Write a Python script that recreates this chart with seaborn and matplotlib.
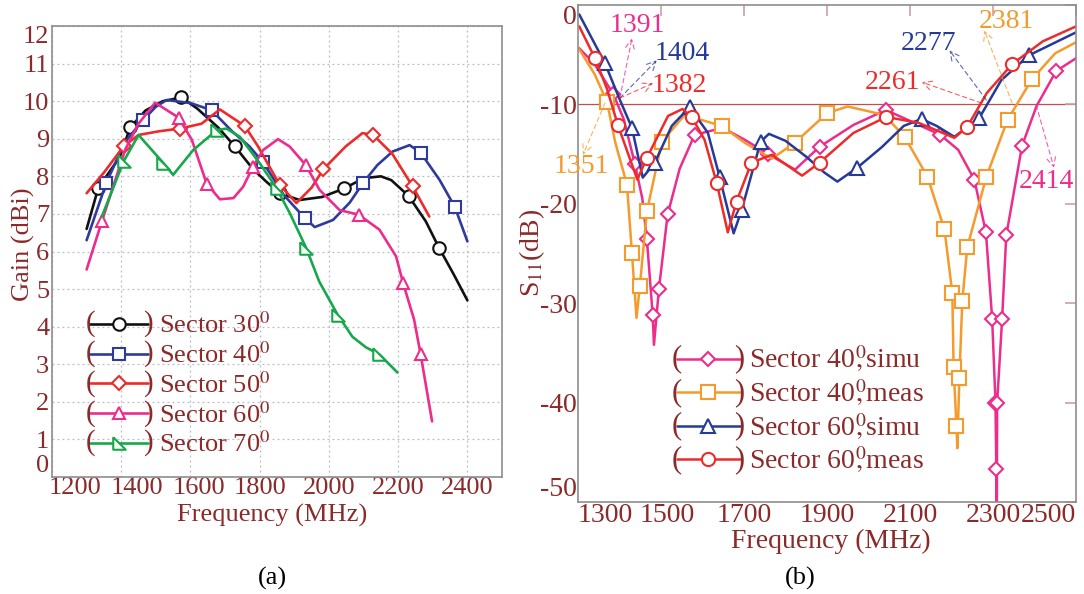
import matplotlib
matplotlib.use("Agg")
import matplotlib.pyplot as plt
import seaborn as sns
from matplotlib.legend_handler import HandlerLine2D
from matplotlib.text import Text
from matplotlib.transforms import ScaledTranslation

# ---------------- data: panel (a) gain ----------------
f30 = [1300, 1334, 1395, 1426, 1470, 1520, 1574, 1620, 1680, 1728, 1780, 1820, 1858, 1915, 1980, 2045, 2100, 2150, 2180, 2230, 2280, 2318, 2360, 2400]
g30 = [6.6, 7.7, 8.5, 9.3, 9.75, 10.0, 10.1, 9.8, 9.3, 8.8, 8.2, 7.85, 7.55, 7.37, 7.45, 7.68, 7.95, 8.0, 7.9, 7.48, 6.8, 6.1, 5.4, 4.7]
m30 = [1, 3, 6, 9, 12, 15, 19, 21]

f40 = [1300, 1357, 1410, 1463, 1500, 1531, 1600, 1661, 1720, 1770, 1810, 1870, 1930, 1959, 2012, 2060, 2099, 2140, 2184, 2233, 2265, 2320, 2364, 2400]
g40 = [6.3, 7.83, 8.9, 9.5, 9.85, 10.03, 9.95, 9.76, 9.2, 8.8, 8.37, 7.5, 6.89, 6.65, 6.84, 7.3, 7.83, 8.3, 8.66, 8.83, 8.63, 7.9, 7.18, 6.27]
m40 = [1, 3, 7, 10, 12, 16, 20, 22]

f50 = [1300, 1350, 1407, 1450, 1510, 1569, 1632, 1685, 1757, 1795, 1858, 1906, 1950, 1984, 2049, 2097, 2128, 2183, 2242, 2290]
g50 = [7.55, 8.1, 8.8, 9.1, 9.2, 9.27, 9.4, 9.78, 9.34, 8.8, 7.77, 7.29, 7.7, 8.19, 8.8, 9.15, 9.1, 8.6, 7.73, 6.93]
m50 = [2, 5, 8, 10, 13, 16, 18]

f60 = [1300, 1344, 1411, 1450, 1498, 1566, 1604, 1647, 1685, 1724, 1752, 1781, 1810, 1853, 1887, 1933, 1973, 2031, 2086, 2146, 2194, 2214, 2246, 2265, 2298]
g60 = [5.52, 6.8, 8.7, 9.4, 9.96, 9.56, 8.97, 7.8, 7.39, 7.42, 7.72, 8.26, 8.7, 8.99, 8.79, 8.3, 7.64, 7.1, 6.98, 6.58, 5.87, 5.17, 4.19, 3.26, 1.48]
m60 = [1, 5, 7, 11, 15, 18, 21, 23]

f70 = [1344, 1407, 1450, 1522, 1550, 1608, 1676, 1704, 1743, 1800, 1849, 1887, 1934, 1972, 2025, 2068, 2107, 2146, 2198]
g70 = [6.93, 8.4, 9.1, 8.35, 8.04, 8.7, 9.23, 9.27, 9.05, 8.35, 7.68, 7.02, 6.1, 5.2, 4.32, 3.73, 3.45, 3.26, 2.78]
m70 = [1, 3, 6, 10, 12, 14, 17]

gain_labels = ["Sector 30$^0$", "Sector 40$^0$", "Sector 50$^0$", "Sector 60$^0$", "Sector 70$^0$"]
gain_xticks = [1200, 1400, 1600, 1800, 2000, 2200, 2400]
gain_yticks = list(range(0, 13))

# ---------------- data: panel (b) S11 ----------------
fs40 = [1303, 1340, 1385, 1410, 1437, 1455, 1466, 1480, 1483, 1495, 1516, 1545, 1581, 1649, 1702, 1757, 1823, 1882, 1964, 2042, 2121, 2173, 2216, 2255, 2283, 2298, 2306, 2308, 2309, 2310, 2322, 2332, 2370, 2405, 2452, 2500]
ss40 = [-4.4, -6.0, -9.0, -11.5, -16.0, -19.5, -23.6, -31.2, -34.2, -28.6, -21.1, -16.5, -13.1, -12.4, -13.6, -15.0, -16.6, -14.3, -12.1, -10.6, -12.1, -13.1, -14.6, -17.6, -22.9, -31.6, -40.0, -46.7, -55.0, -40.0, -31.6, -23.2, -14.2, -10.2, -6.7, -5.4]
ms40 = [2, 4, 6, 7, 9, 10, 12, 15, 17, 19, 21, 23, 24, 25, 26, 27, 29, 30, 31, 32, 34]

fm40 = [1303, 1340, 1370, 1390, 1418, 1430, 1441, 1449, 1466, 1502, 1557, 1646, 1702, 1767, 1822, 1901, 1950, 2038, 2087, 2142, 2183, 2202, 2205, 2212, 2214, 2219, 2226, 2238, 2284, 2335, 2394, 2450, 2500]
sm40 = [-4.5, -7.0, -9.8, -13.9, -18.1, -25.0, -31.5, -28.3, -20.8, -13.8, -11.1, -12.2, -13.9, -15.5, -13.9, -10.9, -10.25, -11.1, -13.3, -17.3, -22.6, -29.0, -36.4, -42.4, -44.6, -37.5, -29.8, -24.4, -17.3, -11.6, -7.5, -4.9, -3.8]
mm40 = [2, 4, 5, 7, 8, 9, 11, 14, 15, 18, 19, 20, 21, 22, 23, 25, 26, 27, 28, 29, 30]

fs60 = [1303, 1365, 1400, 1430, 1456, 1485, 1526, 1569, 1613, 1641, 1675, 1694, 1740, 1760, 1800, 1850, 1894, 1925, 1973, 2033, 2085, 2128, 2164, 2207, 2267, 2320, 2387, 2500]
ss60 = [-1.0, -5.9, -9.5, -12.4, -17.4, -15.9, -12.2, -10.3, -12.9, -17.3, -23.0, -20.7, -13.8, -13.0, -13.7, -15.3, -16.9, -17.8, -16.4, -14.3, -12.2, -11.5, -12.2, -13.3, -11.4, -7.6, -5.1, -2.8]
ms60 = [1, 3, 5, 7, 9, 11, 12, 18, 21, 24, 26]

fm60 = [1303, 1341, 1370, 1396, 1425, 1443, 1466, 1517, 1552, 1574, 1605, 1634, 1661, 1682, 1718, 1767, 1840, 1882, 1964, 2043, 2121, 2207, 2238, 2285, 2346, 2420, 2500]
sm60 = [-2.2, -5.4, -8.5, -12.1, -15.5, -17.6, -15.4, -11.2, -10.5, -11.3, -13.6, -17.9, -22.9, -19.8, -15.9, -15.1, -17.2, -15.9, -12.9, -11.3, -11.9, -13.4, -12.3, -8.9, -6.0, -3.7, -2.2]
mm60 = [1, 3, 6, 9, 11, 13, 14, 17, 19, 22, 24]

s11_labels = [r"Sector 40$^{0}\hspace{-0.5},\hspace{-0.05}$simu", r"Sector 40$^{0}\hspace{-0.5},\hspace{-0.05}$meas",
              r"Sector 60$^{0}\hspace{-0.5},\hspace{-0.05}$simu", r"Sector 60$^{0}\hspace{-0.5},\hspace{-0.05}$meas"]
s11_xticks = [1300, 1500, 1700, 1900, 2100, 2300, 2500]
s11_yticks = [0, -10, -20, -30, -40, -50]
ref_level = -10

ann_texts = ["1391", "1404", "1382", "1351", "2277", "2261", "2381", "2414"]

# ---------------- style ----------------
sns.set_style("white")
plt.rcParams["font.family"] = ["Liberation Serif", "DejaVu Serif"]
plt.rcParams["mathtext.fontset"] = "stix"
plt.rcParams["axes.unicode_minus"] = False

TXT = "#8B2A2A"
SPINE = "#8E8E8E"
FA = 19   # panel (a) font size
FB = 20   # panel (b) font size

fig = plt.figure(figsize=(10.84, 5.94), dpi=100)
W, H = 1084, 594
axA = fig.add_axes([52 / W, (H - 477) / H, 450 / W, 451 / H])
axB = fig.add_axes([578 / W, (H - 502) / H, 498 / W, 497.5 / H])


def shift(label, dx_px):
    label.set_transform(label.get_transform() + ScaledTranslation(dx_px / 100, 0, fig.dpi_scale_trans))


class ParenHandler(HandlerLine2D):
    def create_artists(self, legend, orig_handle, xdescent, ydescent, width, height, fontsize, trans):
        arts = super().create_artists(legend, orig_handle, xdescent, ydescent, width, height, fontsize, trans)
        y = height / 2 - ydescent
        l = Text(-xdescent, y, "(", color=TXT, fontsize=fontsize * 1.1, ha="center", va="center",
                 transform=trans, family="Liberation Serif")
        r = Text(width - xdescent, y, ")", color=TXT, fontsize=fontsize * 1.1, ha="center", va="center",
                 transform=trans, family="Liberation Serif")
        return arts + [l, r]


rtri = [(-1, 1), (-1, -1), (1, -1), (-1, 1)]

# ---------------- panel (a) ----------------
seriesA = [
    (f30, g30, m30, "#111111", "o"),
    (f40, g40, m40, "#2E3A9C", "s"),
    (f50, g50, m50, "#EE2B2B", "D"),
    (f60, g60, m60, "#EC2D8C", "^"),
    (f70, g70, m70, "#17A84B", rtri),
]
for (fx, gy, mk, col, mrk), lab in zip(seriesA, gain_labels):
    ms = 7 if mrk == "D" else 9
    sns.lineplot(x=fx, y=gy, ax=axA, sort=False, estimator=None, color=col, lw=1.9,
                 marker=mrk, markevery=mk, markersize=ms, markerfacecolor="white",
                 markeredgecolor=col, markeredgewidth=1.5, label=lab)

axA.set_xlim(1200, 2500)
axA.set_ylim(0, 12)
axA.set_xticks(gain_xticks)
axA.set_yticks(gain_yticks)
axA.grid(True, color="#B8BCC8", linestyle=(0, (1.5, 2.5)), linewidth=0.9)
axA.tick_params(axis="both", length=0, labelsize=FA, labelcolor=TXT)
axA.tick_params(axis="x", pad=0)
axA.tick_params(axis="y", pad=2)
for sp in axA.spines.values():
    sp.set_color(SPINE)
    sp.set_linewidth(1.2)
axA.set_xlabel("Frequency (MHz)", fontsize=FA, color=TXT)
axA.xaxis.set_label_coords(0.49, -0.06)
axA.set_ylabel("Gain (dBi)", fontsize=FA, color=TXT)
axA.yaxis.set_label_coords(-0.037, 0.517)
for lab_, dx in zip(axA.get_xticklabels()[:3], [23, 16, 9]):
    shift(lab_, dx)
yl = axA.get_yticklabels()
yl[-1].set_va("top")
yl[0].set_va("bottom")
hA, lA = axA.get_legend_handles_labels()
axA.legend(hA, lA, loc="upper left", bbox_to_anchor=(0.085, 0.365), frameon=False, fontsize=FA,
           handlelength=2.2, handletextpad=0.4, labelspacing=0.155, borderpad=0.0, borderaxespad=0.0,
           labelcolor=TXT, handler_map={ln: ParenHandler() for ln in hA})

# ---------------- panel (b) ----------------
seriesB = [
    (fs40, ss40, ms40, "#EC2D8C", "D"),
    (fm40, sm40, mm40, "#F59A2C", "s"),
    (fs60, ss60, ms60, "#263A98", "^"),
    (fm60, sm60, mm60, "#EE2B2B", "o"),
]
for (fx, sy, mk, col, mrk), lab in zip(seriesB, s11_labels):
    ms = 7.5 if mrk == "D" else 9.5
    sns.lineplot(x=fx, y=sy, ax=axB, sort=False, estimator=None, color=col, lw=1.8,
                 marker=mrk, markevery=mk, markersize=ms, markerfacecolor="white",
                 markeredgecolor=col, markeredgewidth=1.5, label=lab)

axB.axhline(ref_level, color="#C0504D", lw=0.9, zorder=0)
axB.set_xlim(1300, 2500)
axB.set_ylim(-50, 0)
axB.set_xticks(s11_xticks)
axB.set_yticks(s11_yticks)
axB.tick_params(axis="both", direction="in", length=8, width=1.2, color="#C9A2A8",
                labelsize=FB, labelcolor=TXT, top=True, right=True)
axB.tick_params(axis="x", pad=1)
axB.tick_params(axis="y", pad=1)
for sp in axB.spines.values():
    sp.set_color(SPINE)
    sp.set_linewidth(1.2)
axB.set_xlabel("Frequency (MHz)", fontsize=FB, color=TXT)
axB.xaxis.set_label_coords(0.508, -0.053)
axB.set_ylabel("S$_{11}$(dB)", fontsize=FB, color=TXT)
axB.yaxis.set_label_coords(-0.062, 0.5)
xl = axB.get_xticklabels()
xl[0].set_ha("left")
xl[-1].set_ha("right")
shift(xl[1], 6)
yl = axB.get_yticklabels()
yl[0].set_va("top")
yl[-1].set_va("bottom")

# annotations: (text position, arrow tail, arrow head, colour) in data coordinates
ann_layout = [
    ((1442, -2.1), (1401, -9.4), (1430, -3.4), "#EC2D8C"),
    ((1550, -4.9), (1401, -9.4), (1490, -5.6), "#263A98"),
    ((1545, -8.1), (1401, -9.4), (1481, -7.9), "#EE2B2B"),
    ((1307, -16.3), (1365, -9.9), (1312, -15.1), "#F59A2C"),
    ((2144, -3.9), (2284, -9.6), (2195, -4.6), "#263A98"),
    ((2058, -7.8), (2272, -9.9), (2128, -7.8), "#EE2B2B"),
    ((2332, -1.75), (2346, -9.9), (2279, -2.6), "#F59A2C"),
    ((2428, -17.8), (2404, -10.1), (2447, -16.4), "#EC2D8C"),
]
for txt, (tpos, tail, head, col) in zip(ann_texts, ann_layout):
    axB.text(tpos[0], tpos[1], txt, color=col, fontsize=FB, ha="center", va="center")
    axB.annotate("", xy=head, xytext=tail,
                 arrowprops=dict(arrowstyle="->", color=col, lw=0.8, linestyle=(0, (4, 3)), alpha=0.75,
                                 shrinkA=0, shrinkB=0, mutation_scale=16))

hB, lB = axB.get_legend_handles_labels()
axB.legend(hB, lB, loc="upper left", bbox_to_anchor=(0.199, 0.318), frameon=False, fontsize=FB,
           handlelength=2.25, handletextpad=0.35, labelspacing=0.10, borderpad=0.0, borderaxespad=0.0,
           labelcolor=TXT, handler_map={ln: ParenHandler() for ln in hB})

fig.text(272 / W, 1 - 578 / H, "(a)", fontsize=FA, color="black", ha="center", va="center")
fig.text(800 / W, 1 - 578 / H, "(b)", fontsize=FA, color="black", ha="center", va="center")

fig.savefig("out.png", dpi=100, facecolor="white")
